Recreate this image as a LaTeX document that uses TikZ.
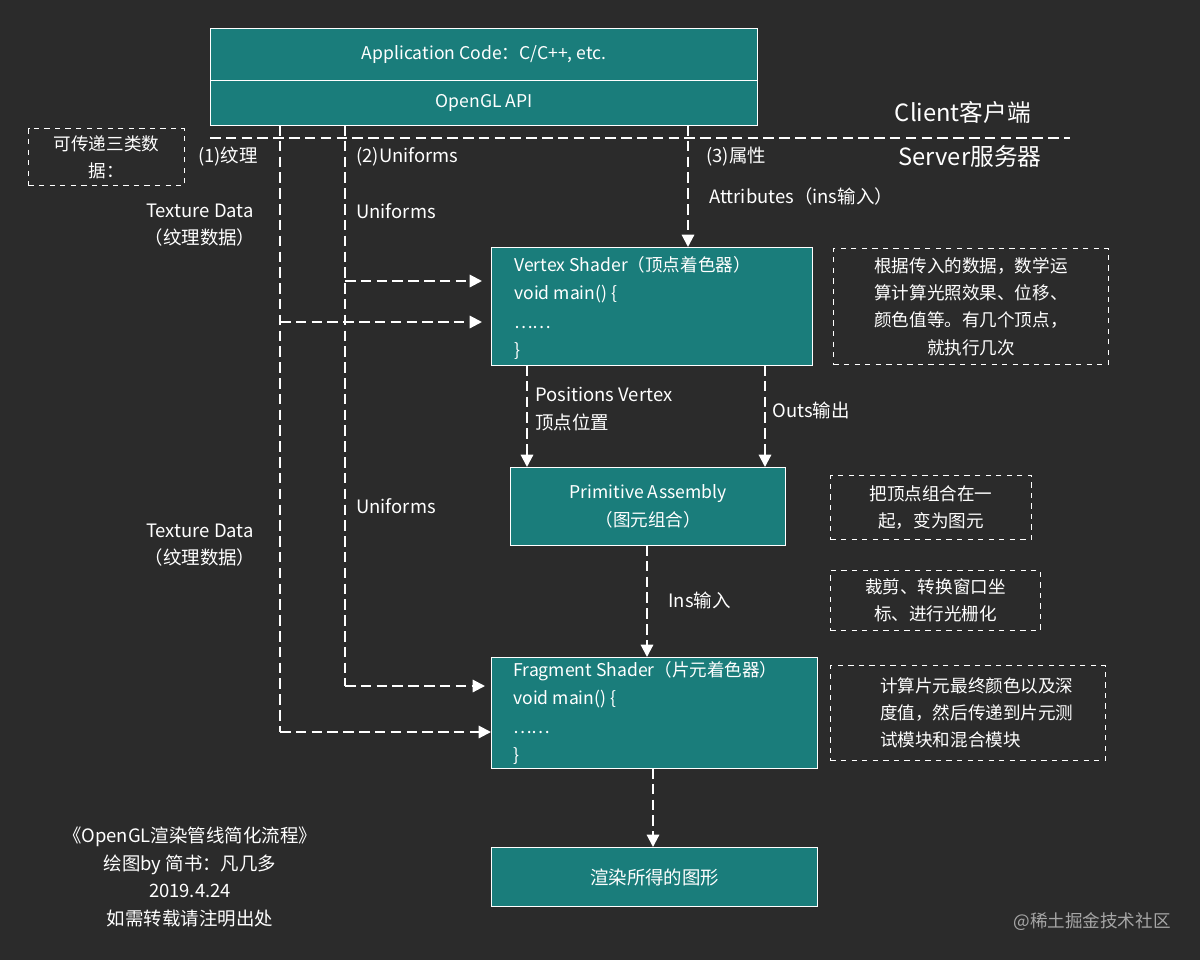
\documentclass[tikz,border=0pt]{standalone}
\usepackage{fontspec}
\setmainfont{Noto Sans CJK SC}
\usetikzlibrary{arrows.meta}
\definecolor{bg}{HTML}{2B2B2B}
\definecolor{teal}{HTML}{1A7D7B}
\begin{document}
\begin{tikzpicture}[x=0.02cm,y=-0.02cm,
 box/.style={draw=white,line width=0.8pt,fill=teal,text=white,inner sep=0pt,font=\fontsize{10}{13}\selectfont},
 note/.style={draw=white,dashed,line width=0.6pt,text=white,inner sep=0pt,font=\fontsize{10}{15.5}\selectfont},
 lab/.style={text=white,font=\fontsize{10.5}{15.5}\selectfont,inner sep=0pt},
 dl/.style={draw=white,line width=1.2pt,dash pattern=on 6pt off 3pt},
 arr/.style={dl,-{Triangle[width=7pt,length=7pt]}}]
\fill[bg] (0,0) rectangle (1200,960);
\useasboundingbox (0,0) rectangle (1200,960);
% top box
\node[box,minimum width=547*0.02cm,minimum height=52*0.02cm,anchor=north west] (app) at (210,28) {Application Code：C/C++, etc.};
\node[box,minimum width=547*0.02cm,minimum height=45*0.02cm,anchor=north west] (api) at (210,80) {OpenGL API};
\coordinate (d1) at (210,138); \coordinate (d2) at (1070,138);
\draw[dl] (d1) -- (d2);
\node[lab,font=\fontsize{13.5}{16}\selectfont] (cl) at (963,112) {Client客户端};
\node[lab,font=\fontsize{13.5}{16}\selectfont] (sv) at (970,156) {Server服务器};
\node[note,minimum width=156*0.02cm,minimum height=57*0.02cm,anchor=north west,align=center] (n0) at (28,128) {可传递三类数\\据：};
% boxes
\node[box,minimum width=321*0.02cm,minimum height=118*0.02cm,anchor=north west] (vs) at (491,247) {};
\node[lab,anchor=west,align=left,font=\fontsize{10}{16.3}\selectfont] (vst) at (514,308) {Vertex Shader（顶点着色器）\\void main() \{\\……\\\}};
\node[box,minimum width=275*0.02cm,minimum height=78*0.02cm,anchor=north west,align=center,font=\fontsize{10}{16}\selectfont] (pa) at (510,467) {Primitive Assembly\\（图元组合）};
\node[box,minimum width=326*0.02cm,minimum height=111*0.02cm,anchor=north west] (fs) at (491,657) {};
\node[lab,anchor=west,align=left,font=\fontsize{10}{16.3}\selectfont] (fst) at (513,713) {Fragment Shader（片元着色器）\\void main() \{\\……\\\}};
\node[box,minimum width=326*0.02cm,minimum height=59*0.02cm,anchor=north west,font=\fontsize{10.5}{13}\selectfont] (out) at (491,847) {渲染所得的图形};
% notes
\node[note,minimum width=275*0.02cm,minimum height=116*0.02cm,anchor=north west,align=center] (n1) at (833,248) {根据传入的数据，数学运\\算计算光照效果、位移、\\颜色值等。有几个顶点，\\就执行几次};
\node[note,minimum width=201*0.02cm,minimum height=64*0.02cm,anchor=north west,align=center] (n2) at (830,475) {把顶点组合在一\\起，变为图元};
\node[note,minimum width=210*0.02cm,minimum height=60*0.02cm,anchor=north west,align=center] (n3) at (830,570) {裁剪、转换窗口坐\\标、进行光栅化};
\node[note,minimum width=275*0.02cm,minimum height=95*0.02cm,anchor=north west,align=left] (n4) at (830,665) {\hspace*{0.35cm}计算片元最终颜色以及深\\\hspace*{0.35cm}度值，然后传递到片元测\\\hspace*{0.35cm}试模块和混合模块};
% connectors
\coordinate (a1) at (280,125); \coordinate (a1b) at (280,732); \coordinate (a1m) at (280,322);
\coordinate (a2) at (345,125); \coordinate (a2b) at (345,686); \coordinate (a2m) at (345,281);
\draw[dl] (a1) -- (a1b);
\draw[arr] (a1b) -- (fs.west |- a1b);
\draw[arr] (a1m) -- ([xshift=-0.18cm]vs.west |- a1m);
\draw[dl] (a2) -- (a2b);
\draw[arr] (a2b) -- ([xshift=-0.12cm]fs.west |- a2b);
\draw[arr] (a2m) -- ([xshift=-0.18cm]vs.west |- a2m);
\coordinate (a3) at (688,125);
\draw[arr] (a3) -- (a3 |- vs.north);
\coordinate (v1) at (527,365); \coordinate (v2) at (765,365);
\draw[arr] (v1) -- (v1 |- pa.north);
\draw[arr] (v2) -- (v2 |- pa.north);
\coordinate (p1) at (647,545);
\draw[arr] (p1) -- (p1 |- fs.north);
\coordinate (f1) at (653,768);
\draw[arr] (f1) -- (f1 |- out.north);
% labels
\node[lab] (l1) at (228,157) {(1)纹理};
\node[lab,anchor=west] (l2) at (356,157) {(2)Uniforms};
\node[lab,anchor=west] (l3) at (706,157) {(3)属性};
\node[lab,align=center] (l4) at (200,225) {Texture Data\\（纹理数据）};
\node[lab,anchor=west] (l5) at (356,211) {Uniforms};
\node[lab,anchor=west] (l6) at (709,196) {Attributes（ins输入）};
\node[lab,align=center] (l7) at (200,545) {Texture Data\\（纹理数据）};
\node[lab,anchor=west] (l8) at (356,506) {Uniforms};
\node[lab,anchor=west,align=left] (l9) at (535,409) {Positions Vertex\\顶点位置};
\node[lab,anchor=west] (l10) at (772,410) {Outs输出};
\node[lab,anchor=west] (l11) at (668,600) {Ins输入};
\node[lab,align=center,font=\fontsize{10.5}{15.7}\selectfont] (cr) at (190,877) {《OpenGL渲染管线简化流程》\\绘图by 简书：凡几多\\2019.4.24\\如需转载请注明出处};
\node[lab,text=gray!70,font=\fontsize{10}{12}\selectfont] (wm) at (1092,922) {@稀土掘金技术社区};
\end{tikzpicture}
\end{document}
